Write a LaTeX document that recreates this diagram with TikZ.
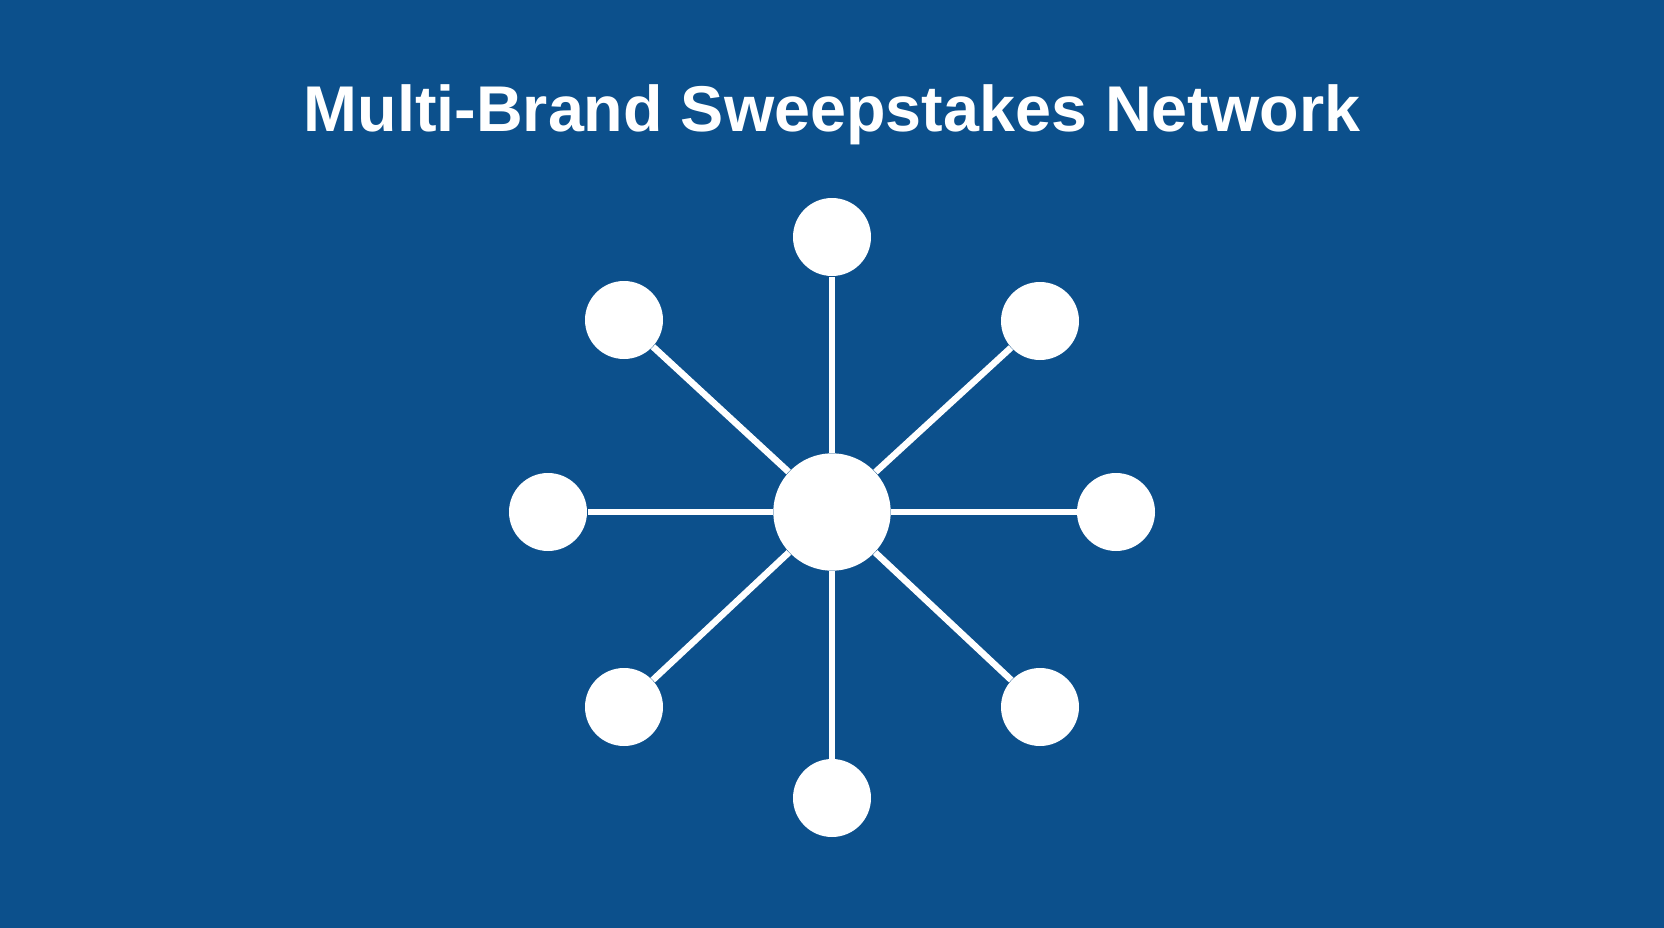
\documentclass[tikz,border=0pt]{standalone}
\usepackage{fontspec}
\setmainfont{Liberation Sans}
\usepackage{tikz}
\usepackage{xcolor}
\definecolor{netblue}{RGB}{12,80,140}
\tikzset{every picture/.style={line width=0.75pt}}
\tikzset{
  hubnode/.style={circle, fill=white, draw=none, inner sep=0pt, minimum size=88pt},
  brandnode/.style={circle, fill=white, draw=none, inner sep=0pt, minimum size=58.5pt},
  spoke/.style={draw=white, line width=4.9pt},
}

\begin{document}
\begin{tikzpicture}[x=0.75pt,y=0.75pt,yscale=-1,xscale=1]
%Background [set diagram size 1664 x 928]
\fill [netblue] (0,0) rectangle (1664,928);
\useasboundingbox (0,0) rectangle (1664,928);

% Text Node
\node (title) at (832,131) [anchor=base, text=white, font=\bfseries\fontsize{48.5}{58}\selectfont] {Multi-Brand Sweepstakes Network};

%Shape: Circle [hub]
\node (hub) at (832,512) [hubnode] {};

%Shape: Circle [brands]
\node (top) at (832,237) [brandnode] {};
\node (topright) at (1040,321) [brandnode] {};
\node (right) at (1116,512) [brandnode] {};
\node (botright) at (1040,707) [brandnode] {};
\node (bottom) at (832,798) [brandnode] {};
\node (botleft) at (624,707) [brandnode] {};
\node (left) at (548,512) [brandnode] {};
\node (topleft) at (624,320) [brandnode] {};

%Straight Lines
\draw [spoke] (hub) -- (top) ;
\draw [spoke] (hub) -- (topright) ;
\draw [spoke] (hub) -- (right) ;
\draw [spoke] (hub) -- (botright) ;
\draw [spoke] (hub) -- (bottom) ;
\draw [spoke] (hub) -- (botleft) ;
\draw [spoke] (hub) -- (left) ;
\draw [spoke] (hub) -- (topleft) ;

\end{tikzpicture}
\end{document}
